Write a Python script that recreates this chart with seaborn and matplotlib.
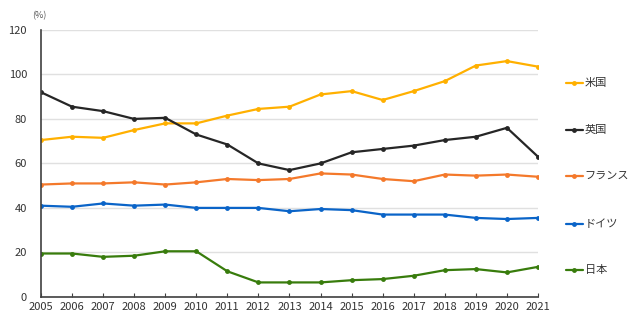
import matplotlib
matplotlib.use("Agg")
import matplotlib.pyplot as plt
import seaborn as sns
import pandas as pd

years = list(range(2005, 2022))
us = [70.5, 72, 71.5, 75, 78, 78, 81.5, 84.5, 85.5, 91, 92.5, 88.5, 92.5, 97, 104, 106, 103.5]
uk = [92, 85.5, 83.5, 80, 80.5, 73, 68.5, 60, 57, 60, 65, 66.5, 68, 70.5, 72, 76, 63]
france = [50.5, 51, 51, 51.5, 50.5, 51.5, 53, 52.5, 53, 55.5, 55, 53, 52, 55, 54.5, 55, 54]
germany = [41, 40.5, 42, 41, 41.5, 40, 40, 40, 38.5, 39.5, 39, 37, 37, 37, 35.5, 35, 35.5]
japan = [19.5, 19.5, 18, 18.5, 20.5, 20.5, 11.5, 6.5, 6.5, 6.5, 7.5, 8, 9.5, 12, 12.5, 11, 13.5]

countries = ["米国", "英国", "フランス", "ドイツ", "日本"]
colors = ["#FFB000", "#262626", "#F4792B", "#0A64C8", "#387C0C"]
yticks = [0, 20, 40, 60, 80, 100, 120]

df = pd.DataFrame({"年": years, "米国": us, "英国": uk, "フランス": france,
                   "ドイツ": germany, "日本": japan})
long = df.melt(id_vars="年", var_name="国", value_name="値")

sns.set_theme(style="white")
plt.rcParams["font.family"] = ["Noto Sans CJK JP", "DejaVu Sans"]

fig = plt.figure(figsize=(6.3, 3.22), dpi=100)
ax = fig.add_axes([0.065, 0.078, 0.789, 0.829])

sns.lineplot(data=long, x="年", y="値", hue="国", hue_order=countries,
             palette=colors, marker="o", markersize=3.5, markeredgewidth=0,
             linewidth=1.6, ax=ax, legend=False)

ax.set_xlim(2005, 2021)
ax.set_ylim(0, 120)
ax.set_xticks(years)
ax.set_xticklabels([str(y) for y in years], fontsize=8, color="#333333")
ax.set_yticks(yticks)
ax.set_yticklabels([str(v) for v in yticks], fontsize=8, color="#333333")
ax.set_xlabel("")
ax.set_ylabel("")
ax.grid(axis="y", color="#E0E0E0", linewidth=1)
ax.set_axisbelow(True)
for s in ["top", "right"]:
    ax.spines[s].set_visible(False)
ax.spines["left"].set_color("#404040")
ax.spines["bottom"].set_color("#404040")
ax.spines["left"].set_linewidth(1.2)
ax.spines["bottom"].set_linewidth(1.2)
ax.tick_params(axis="x", direction="in", length=3, width=0.8, color="#404040", pad=4)
ax.tick_params(axis="y", length=0, pad=10)
ax.tick_params(axis="x", which="both", bottom=True)

fig.text(0.062, 0.952, "(%)", fontsize=6.5, color="#555555", ha="center", va="center")

# legend entries stacked down the right side
legend_y = [0.742, 0.596, 0.453, 0.304, 0.161]
for name, c, yy in zip(countries, colors, legend_y):
    fig.add_artist(plt.Line2D([0.898, 0.925], [yy, yy], color=c, linewidth=1.6,
                              transform=fig.transFigure))
    fig.add_artist(plt.Line2D([0.9115], [yy], color=c, marker="o", markersize=3.5,
                              markeredgewidth=0, transform=fig.transFigure))
    fig.text(0.928, yy, name, fontsize=8, color="#333333", va="center", ha="left")

fig.savefig("out.png", dpi=100, facecolor="white")
